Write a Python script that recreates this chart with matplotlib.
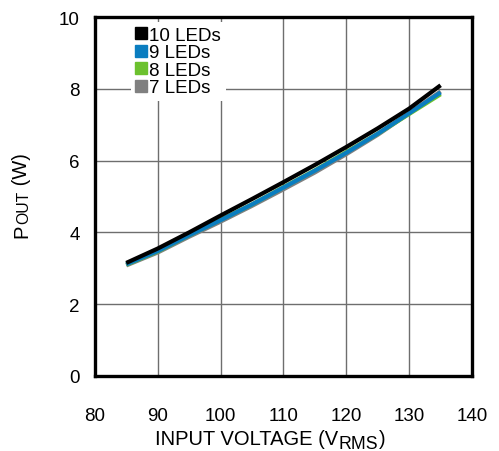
import matplotlib.pyplot as plt

plt.rcParams['font.family'] = ['Liberation Sans', 'DejaVu Sans']

# input voltage (Vrms) and output power (W) per LED string length
vin = [85, 90, 95, 100, 105, 110, 115, 120, 125, 130, 135]
p_10 = [3.15, 3.55, 4.00, 4.47, 4.93, 5.40, 5.88, 6.38, 6.90, 7.45, 8.10]
p_9 = [3.11, 3.48, 3.92, 4.34, 4.78, 5.25, 5.72, 6.22, 6.75, 7.32, 7.90]
p_8 = [3.10, 3.47, 3.92, 4.35, 4.78, 5.26, 5.73, 6.24, 6.75, 7.30, 7.85]
p_7 = [3.08, 3.44, 3.88, 4.30, 4.74, 5.20, 5.67, 6.18, 6.72, 7.32, 7.93]

labels = ['10 LEDs', '9 LEDs', '8 LEDs', '7 LEDs']
colors = ['#000000', '#0a7dc0', '#6cc12e', '#808080']

fig = plt.figure(figsize=(4.99, 4.52), dpi=100)
ax = fig.add_axes([0.190, 0.166, 0.756, 0.794])

series = [p_10, p_9, p_8, p_7]
# grey at the bottom, black on top
for i in [3, 1, 2, 0]:
    ax.plot(vin, series[i], color=colors[i], lw=3.0, solid_capstyle='butt',
            zorder=3 + (3 - i))

ax.set_xlim(80, 140)
ax.set_ylim(0, 10)
ax.set_xticks(range(80, 141, 10))
ax.set_yticks(range(0, 11, 2))
ax.grid(True, color='#6e6e6e', lw=1.0)
ax.tick_params(length=0, labelsize=13.5)
ax.tick_params(axis='x', pad=22)
ax.tick_params(axis='y', pad=11)
for s in ax.spines.values():
    s.set_linewidth(2.4)

# x label with lowered RMS
fs = 14.5
t1 = fig.text(155 / 499, 1 - 449 / 452, 'INPUT VOLTAGE (V', fontsize=fs,
              ha='left', va='bottom')
t2 = ax.annotate('RMS', xy=(1, 0), xycoords=t1, xytext=(0.3, -2.6),
                 textcoords='offset points', fontsize=fs * 0.88,
                 ha='left', va='bottom', annotation_clip=False)
ax.annotate(')', xy=(1, 0), xycoords=t2, xytext=(0.2, 2.6),
            textcoords='offset points', fontsize=fs,
            ha='left', va='bottom', annotation_clip=False)

# y label with small-caps OUT
y1 = fig.text(31 / 499, 1 - 238 / 452, 'P', fontsize=fs, rotation=90,
              ha='right', va='bottom')
y2 = ax.annotate('OUT', xy=(1, 1), xycoords=y1, xytext=(0, 0.3),
                 textcoords='offset points', fontsize=fs * 0.78, rotation=90,
                 ha='right', va='bottom', annotation_clip=False)
ax.annotate(' (W)', xy=(1, 1), xycoords=y2, fontsize=fs, rotation=90,
            ha='right', va='bottom', annotation_clip=False)

handles = [plt.Line2D([], [], ls='none', marker='s', ms=8.5, color=c) for c in colors]
leg = ax.legend(handles, labels, loc='upper left', bbox_to_anchor=(0.07, 1.012),
                fontsize=13.5, frameon=True, fancybox=False, edgecolor='none',
                framealpha=1, handlelength=0.6, handletextpad=0.15,
                labelspacing=0.02, borderpad=0.25)
leg.set_zorder(10)

fig.savefig('out.png', dpi=100)
